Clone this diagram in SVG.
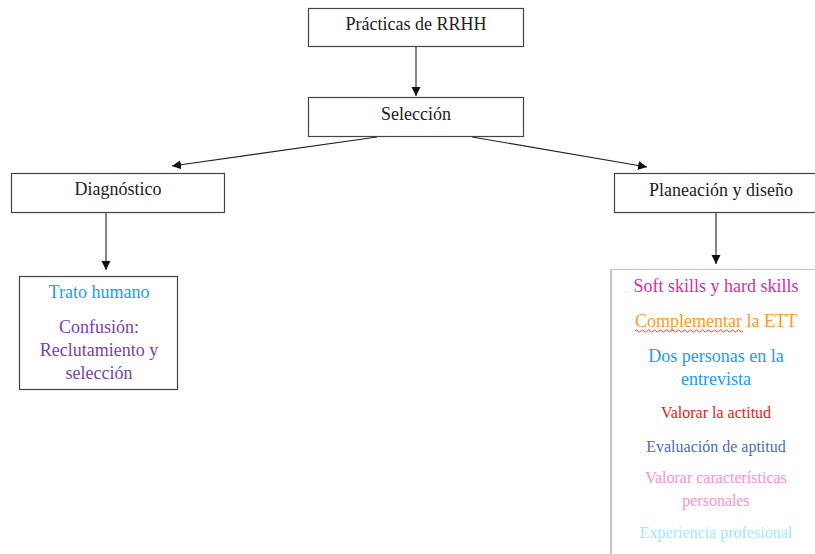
<svg xmlns="http://www.w3.org/2000/svg" width="815" height="554" viewBox="0 0 815 554">
<defs>
<marker id="ah" markerWidth="10" markerHeight="10" refX="9" refY="5" orient="auto" markerUnits="userSpaceOnUse">
<path d="M0,0.5 L9,5 L0,9.5 Z" fill="#111"/>
</marker>
<style>
.box{fill:#fff;stroke:#444;stroke-width:1.2}
.lbox{fill:#fff;stroke:#c8c8c8;stroke-width:1.2}
.t{font-family:"Liberation Serif","Times New Roman",serif;text-anchor:middle}
.big{font-size:18px}
.sm{font-size:16px}
.conn{stroke:#222;stroke-width:1.1;fill:none;marker-end:url(#ah)}
</style>
</defs>
<rect width="815" height="554" fill="#fff"/>
<g id="connectors">
<line class="conn" x1="416" y1="47" x2="416" y2="96"/>
<line class="conn" x1="377" y1="137" x2="172" y2="166"/>
<line class="conn" x1="472" y1="137" x2="647" y2="167"/>
<line class="conn" x1="106" y1="213" x2="106" y2="270"/>
<line class="conn" x1="716" y1="213" x2="716" y2="264"/>
</g>
<g id="practicas">
<rect class="box" x="308.5" y="8.5" width="215" height="38"/>
<text class="t big" x="416" y="30" fill="#222">Prácticas de RRHH</text>
</g>
<g id="seleccion">
<rect class="box" x="308.5" y="97.5" width="215" height="39"/>
<text class="t big" x="416" y="120" fill="#222">Selección</text>
</g>
<g id="diagnostico">
<rect class="box" x="11.5" y="173.5" width="213" height="39"/>
<text class="t big" x="118" y="195" fill="#222">Diagnóstico</text>
</g>
<g id="planeacion">
<rect class="box" x="614.5" y="173.5" width="220" height="39"/>
<text class="t big" x="721" y="196" fill="#222">Planeación y diseño</text>
</g>
<g id="diagnostico-detalle">
<rect class="box" x="19.5" y="276.5" width="158" height="113"/>
<text class="t big" x="99" y="298" fill="#1a9cf5">Trato humano</text>
<text class="t big" x="99" y="333" fill="#7a3fb0">Confusión:</text>
<text class="t big" x="99" y="356" fill="#7a3fb0">Reclutamiento y</text>
<text class="t big" x="99" y="379" fill="#7a3fb0">selección</text>
</g>
<g id="planeacion-detalle">
<rect class="lbox" x="611" y="269.5" width="220" height="300"/>
<line x1="611" y1="270" x2="611" y2="554" stroke="#c4c4c4" stroke-width="2"/>
<text class="t big" x="716" y="292" fill="#dc2aa6">Soft skills y hard skills</text>
<text class="t big" x="716" y="327" fill="#ff9a1e">Complementar la ETT</text>
<path d="M635,331 q1.5,-2 3,0 t3,0 t3,0 t3,0 t3,0 t3,0 t3,0 t3,0 t3,0 t3,0 t3,0 t3,0 t3,0 t3,0 t3,0 t3,0 t3,0 t3,0 t3,0 t3,0 t3,0 t3,0 t3,0 t3,0 t3,0 t3,0 t3,0 t3,0 t3,0 t3,0 t3,0 t3,0 t3,0 t3,0 t3,0 t3,0" fill="none" stroke="#e03030" stroke-width="0.9"/>
<text class="t big" x="716" y="362" fill="#1a9cf5">Dos personas en la</text>
<text class="t big" x="716" y="385" fill="#1a9cf5">entrevista</text>
<text class="t sm" x="716" y="418" fill="#f01818">Valorar la actitud</text>
<text class="t sm" x="716" y="452" fill="#4a6cc0">Evaluación de aptitud</text>
<text class="t sm" x="716" y="483" fill="#ff90d0">Valorar características</text>
<text class="t sm" x="716" y="506" fill="#ff90d0">personales</text>
<text class="t sm" x="716" y="538" fill="#a0e8ff">Experiencia profesional</text>
</g>
</svg>
